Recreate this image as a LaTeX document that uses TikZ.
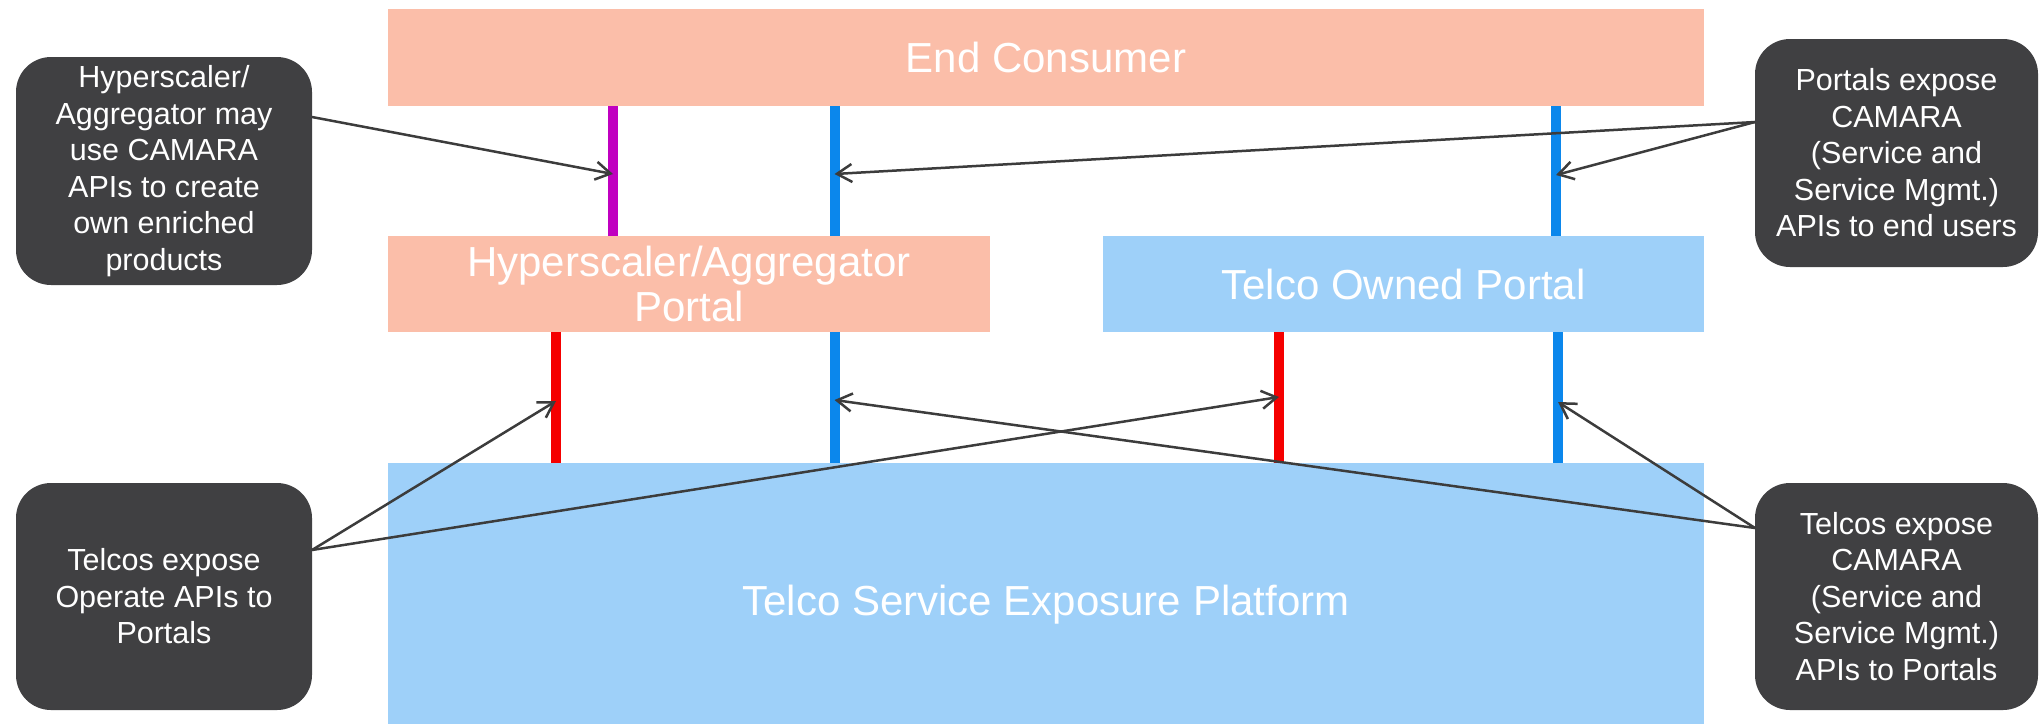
\documentclass[tikz,border=0pt]{standalone}
\usepackage{fontspec}
\setmainfont{Liberation Sans}
\usetikzlibrary{arrows.meta}
\definecolor{salmon}{RGB}{251,190,169}
\definecolor{lblue}{RGB}{158,208,249}
\definecolor{magl}{RGB}{192,0,192}
\definecolor{bluel}{RGB}{11,135,236}
\definecolor{redl}{RGB}{245,0,0}
\definecolor{callfill}{RGB}{64,64,66}
\definecolor{arrcol}{RGB}{60,60,60}
\begin{document}
\begin{tikzpicture}[x=1pt,y=-1pt,
  box/.style={fill=#1, draw=none, inner sep=0pt, outer sep=0pt, text=white, align=center, font=\fontsize{42}{45}\selectfont},
  callout/.style={fill=callfill, rounded corners=35pt, inner sep=0pt, outer sep=0pt, text=white, align=center, font=\fontsize{30.5}{36.5}\selectfont},
  vline/.style={line width=10pt, draw=#1},
  arr/.style={draw=arrcol, line width=2.5pt, -{Straight Barb[length=15pt,width=18pt]}}]
\useasboundingbox (0,0) rectangle (2041,724);
% main boxes
\node[box=salmon, minimum width=1316pt, minimum height=97pt] (ec) at (1046,57.5) {End Consumer};
\node[box=salmon, minimum width=602pt, minimum height=96pt] (hap) at (689,284) {Hyperscaler/Aggregator\\Portal};
\node[box=lblue, minimum width=601pt, minimum height=96pt] (top) at (1403.5,284) {Telco Owned Portal};
\node[box=lblue, minimum width=1316pt, minimum height=261pt, text height=44pt, text depth=0pt] (tsep) at (1046,593.5) {Telco Service Exposure Platform};
% callouts
\node[callout, minimum width=296pt, minimum height=228pt] (c1) at (164,171) {Hyperscaler/\\Aggregator may\\use CAMARA\\APIs to create\\own enriched\\products};
\node[callout, minimum width=283pt, minimum height=228pt] (c2) at (1896.5,153) {Portals expose\\CAMARA\\(Service and\\Service Mgmt.)\\APIs to end users};
\node[callout, minimum width=296pt, minimum height=227pt] (c3) at (164,596.5) {Telcos expose\\Operate APIs to\\Portals};
\node[callout, minimum width=283pt, minimum height=227pt] (c4) at (1896.5,596.5) {Telcos expose\\CAMARA\\(Service and\\Service Mgmt.)\\APIs to Portals};
% interface line positions
\coordinate (xm) at (613,0);
\coordinate (xb1) at (834.5,0);
\coordinate (xb2) at (1556,0);
\coordinate (xr1) at (556,0);
\coordinate (xr2) at (1279,0);
\coordinate (xb3) at (1558,0);
\draw[vline=magl] (ec.south -| xm) -- (hap.north -| xm);
\draw[vline=bluel] (ec.south -| xb1) -- (hap.north -| xb1);
\draw[vline=bluel] (ec.south -| xb2) -- (top.north -| xb2);
\draw[vline=redl] (hap.south -| xr1) -- (tsep.north -| xr1);
\draw[vline=bluel] (hap.south -| xb1) -- (tsep.north -| xb1);
\draw[vline=redl] (top.south -| xr2) -- (tsep.north -| xr2);
\draw[vline=bluel] (top.south -| xb3) -- (tsep.north -| xb3);
% arrow targets
\coordinate (t1) at (613,174);
\coordinate (t2) at (834.5,174);
\coordinate (t3) at (1556,175);
\coordinate (t4) at (556,401);
\coordinate (t5) at (1279,397);
\coordinate (t6) at (834.5,400);
\coordinate (t7) at (1558,402);
% arrow sources
\coordinate (s1) at ([yshift=54pt]c1.east);
\coordinate (s2) at ([yshift=31pt]c2.west);
\coordinate (s3) at ([yshift=46.5pt]c3.east);
\coordinate (s4) at ([yshift=68.5pt]c4.west);
\draw[arr] (s1) -- (t1);
\draw[arr] (s2) -- (t2);
\draw[arr] (s2) -- (t3);
\draw[arr] (s3) -- (t4);
\draw[arr] (s3) -- (t5);
\draw[arr] (s4) -- (t6);
\draw[arr] (s4) -- (t7);
\end{tikzpicture}
\end{document}
